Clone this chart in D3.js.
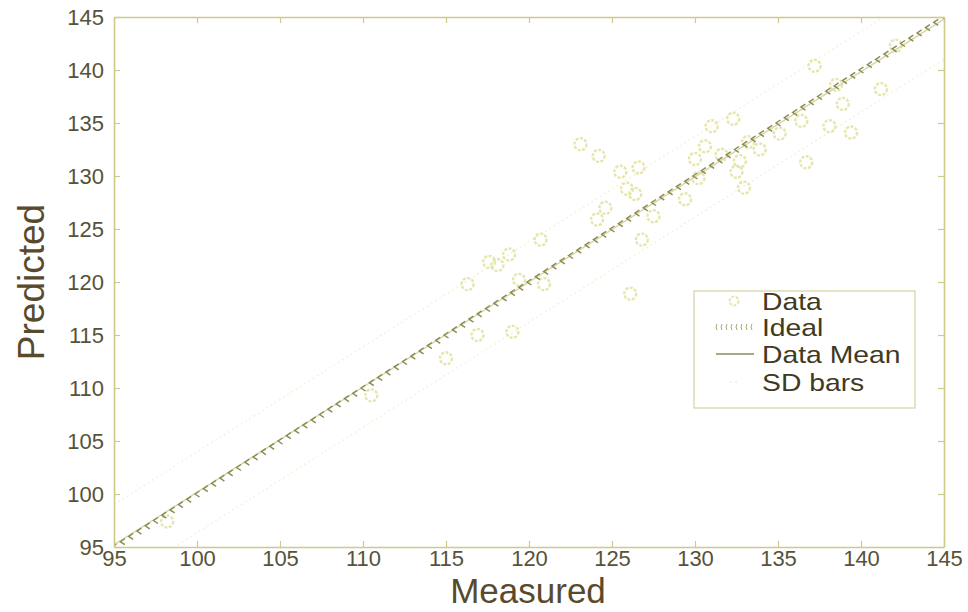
<!DOCTYPE html>
<html>
<head>
<meta charset="utf-8">
<script src="https://cdn.jsdelivr.net/npm/d3@7"></script>
<style>
  html, body { margin: 0; padding: 0; background: #ffffff; }
  svg { display: block; }
</style>
</head>
<body>
<svg id="chart" width="968" height="612"></svg>
<script>
// Measured vs predicted values
const measured = [98.2, 110.5, 115.0, 116.3, 116.9, 117.6, 118.1, 118.8, 119.0, 119.4,
  120.7, 120.9, 123.1, 124.2, 124.1, 124.6, 125.5, 125.9, 126.1, 126.4,
  126.6, 126.8, 127.5, 129.4, 130.0, 130.2, 130.6, 131.0, 131.6, 132.3,
  132.5, 132.7, 132.95, 133.2, 133.9, 135.1, 136.4, 136.7, 137.2, 138.1,
  138.5, 138.9, 139.4, 141.2, 142.1];
const predicted = [97.4, 109.3, 112.8, 119.8, 115.0, 121.9, 121.6, 122.6, 115.3, 120.2,
  124.0, 119.8, 133.0, 131.9, 125.9, 127.0, 130.4, 128.8, 118.9, 128.3,
  130.8, 124.0, 126.2, 127.8, 131.6, 129.8, 132.8, 134.7, 132.0, 135.4,
  130.4, 131.4, 128.9, 133.2, 132.5, 134.0, 135.2, 131.3, 140.4, 134.7,
  138.6, 136.8, 134.1, 138.2, 142.3];

// Ideal line marker positions, and mean / SD line endpoints
const idealValues = d3.range(95, 145.01, 0.5);
const meanX = [95, 145];
const meanY = [95.2, 144.8];
const sdOffset = 3.8;

const xTicks = [95, 100, 105, 110, 115, 120, 125, 130, 135, 140, 145];
const yTicks = [95, 100, 105, 110, 115, 120, 125, 130, 135, 140, 145];
const legendLabels = ["Data", "Ideal", "Data Mean", "SD bars"];

const svg = d3.select("#chart");
const m = { left: 114, right: 944, top: 17, bottom: 547 };

const x = d3.scaleLinear().domain([95, 145]).range([m.left, m.right]);
const y = d3.scaleLinear().domain([95, 145]).range([m.bottom, m.top]);

const axisColor = "#cfc98a";
const textColor = "#56533a";
const font = "'Liberation Sans', Arial, sans-serif";

// Clip for the plot area
svg.append("clipPath").attr("id", "clip")
  .append("rect").attr("x", m.left).attr("y", m.top)
  .attr("width", m.right - m.left).attr("height", m.bottom - m.top);

const plot = svg.append("g").attr("clip-path", "url(#clip)");

// SD bars: faint dotted lines either side of the mean
[-sdOffset, sdOffset].forEach(off => {
  plot.append("line")
    .attr("x1", x(meanX[0])).attr("y1", y(meanY[0] + off))
    .attr("x2", x(meanX[1])).attr("y2", y(meanY[1] + off))
    .attr("stroke", "#f4f2de").attr("stroke-width", 1.5)
    .attr("stroke-dasharray", "2,3");
});

// Data points
plot.selectAll("circle.data")
  .data(measured.map((v, i) => [v, predicted[i]]))
  .join("circle")
  .attr("class", "data")
  .attr("cx", d => x(d[0]))
  .attr("cy", d => y(d[1]))
  .attr("r", 6)
  .attr("fill", "none")
  .attr("stroke", "#e6e6ac")
  .attr("stroke-width", 2.4)
  .attr("stroke-dasharray", "3,1.5");

// Data mean line
plot.append("line")
  .attr("x1", x(meanX[0])).attr("y1", y(meanY[0]))
  .attr("x2", x(meanX[1])).attr("y2", y(meanY[1]))
  .attr("stroke", "#d9d6a6").attr("stroke-width", 1.4);

// Ideal line drawn as chevron markers
const chevron = "M2.5,-3 L-2,0 L2.5,3";
plot.selectAll("path.ideal")
  .data(idealValues)
  .join("path")
  .attr("class", "ideal")
  .attr("transform", d => `translate(${x(d)},${y(d)})`)
  .attr("d", chevron)
  .attr("fill", "none")
  .attr("stroke", "#8b8a52")
  .attr("stroke-width", 1.4);

// Axes (box with inward ticks)
const tickLen = 6;
const xAxisB = d3.axisBottom(x).tickValues(xTicks).tickSizeInner(-tickLen).tickSizeOuter(0).tickPadding(3);
const yAxisL = d3.axisLeft(y).tickValues(yTicks).tickSizeInner(-tickLen).tickSizeOuter(0).tickPadding(10);
const xAxisT = d3.axisTop(x).tickValues(xTicks).tickSizeInner(-tickLen).tickSizeOuter(0).tickFormat("");
const yAxisR = d3.axisRight(y).tickValues(yTicks).tickSizeInner(-tickLen).tickSizeOuter(0).tickFormat("");

function style(g) {
  g.selectAll("path.domain").attr("stroke", axisColor).attr("stroke-width", 1.6);
  g.selectAll(".tick line").attr("stroke", axisColor).attr("stroke-width", 1.2);
  g.selectAll(".tick text").attr("fill", textColor).attr("font-size", 22).attr("font-family", font);
}

svg.append("g").attr("transform", `translate(0,${m.bottom})`).call(xAxisB).call(style);
svg.append("g").attr("transform", `translate(${m.left},0)`).call(yAxisL).call(style);
svg.append("g").attr("transform", `translate(0,${m.top})`).call(xAxisT).call(style);
svg.append("g").attr("transform", `translate(${m.right},0)`).call(yAxisR).call(style);

// Axis titles
svg.append("text")
  .attr("x", 528).attr("y", 603)
  .attr("text-anchor", "middle")
  .attr("font-family", font).attr("font-size", 35)
  .attr("fill", "#5a4a2c")
  .text("Measured");

svg.append("text")
  .attr("transform", "translate(44,282) rotate(-90)")
  .attr("text-anchor", "middle")
  .attr("font-family", font).attr("font-size", 37)
  .attr("fill", "#5a4a2c")
  .text("Predicted");

// Legend
const lg = svg.append("g").attr("transform", "translate(694,291)");
lg.append("rect").attr("width", 221).attr("height", 117)
  .attr("fill", "#ffffff").attr("stroke", "#d6d3a0").attr("stroke-width", 1.2);

const rowY = [10, 36, 63, 91];
lg.selectAll("text").data(legendLabels).join("text")
  .attr("transform", (d, i) => `translate(68,${rowY[i] + 9}) scale(1.18,1)`)
  .attr("font-family", font).attr("font-size", 24)
  .attr("fill", "#3f3a22")
  .text(d => d);

// Legend symbols
lg.append("circle").attr("cx", 40).attr("cy", rowY[0])
  .attr("r", 4.5).attr("fill", "none").attr("stroke", "#e6e6ac")
  .attr("stroke-width", 2).attr("stroke-dasharray", "3,1.5");
lg.selectAll("path.lg-ideal").data(d3.range(0, 8)).join("path")
  .attr("class", "lg-ideal")
  .attr("transform", d => `translate(${22 + d * 5},${rowY[1]})`)
  .attr("d", "M1,-3 L0,0 L1,3")
  .attr("fill", "none").attr("stroke", "#a9a774").attr("stroke-width", 1);
lg.append("line").attr("x1", 22).attr("x2", 60).attr("y1", rowY[2]).attr("y2", rowY[2])
  .attr("stroke", "#8d8b5c").attr("stroke-width", 1.3);
lg.append("line").attr("x1", 36).attr("x2", 46).attr("y1", rowY[3]).attr("y2", rowY[3])
  .attr("stroke", "#efedd2").attr("stroke-width", 1.5).attr("stroke-dasharray", "2,3");
</script>
</body>
</html>
